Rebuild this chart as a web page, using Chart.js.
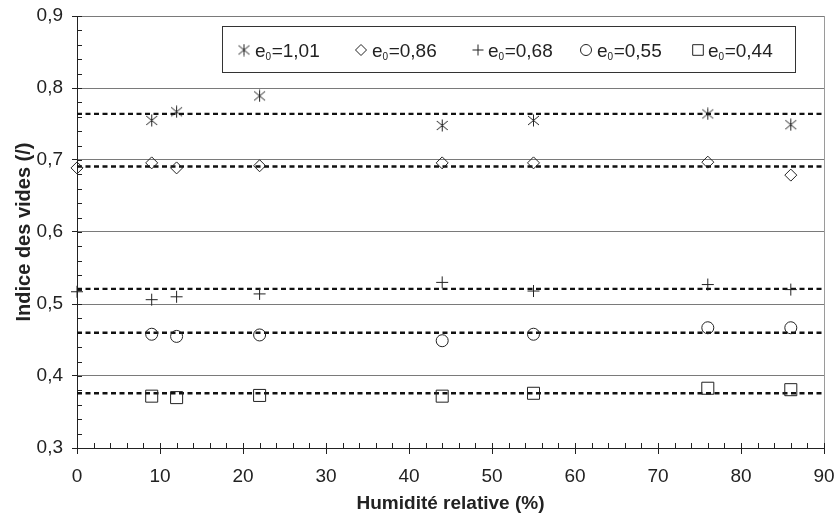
<!DOCTYPE html>
<html>
<head>
<meta charset="utf-8">
<script src="https://cdn.jsdelivr.net/npm/chart.js@4/dist/chart.umd.min.js"></script>
<style>
html,body{margin:0;padding:0;background:#fff}
#wrap{width:838px;height:520px;position:relative}
</style>
</head>
<body>
<div id="wrap"><canvas id="c" width="838" height="520"></canvas></div>
<script>
// ---- Data ----
const hr101 = [9, 12, 22, 44, 55, 76, 86];
const e101  = [0.755, 0.767, 0.789, 0.748, 0.755, 0.764, 0.749];
const hr086 = [0, 9, 12, 22, 44, 55, 76, 86];
const e086  = [0.689, 0.696, 0.689, 0.692, 0.696, 0.696, 0.697, 0.679];
const hr068 = [0, 9, 12, 22, 44, 55, 76, 86];
const e068  = [0.517, 0.506, 0.510, 0.514, 0.530, 0.518, 0.527, 0.520];
const hr055 = [9, 12, 22, 44, 55, 76, 86];
const e055  = [0.458, 0.455, 0.457, 0.449, 0.458, 0.467, 0.467];
const hr044 = [9, 12, 22, 44, 55, 76, 86];
const e044  = [0.372, 0.370, 0.373, 0.372, 0.376, 0.383, 0.381];
const meanValues = [0.764, 0.691, 0.521, 0.460, 0.376];
const seriesLabels = ['1,01', '0,86', '0,68', '0,55', '0,44'];
const xRange = [0, 90];
const yRange = [0.3, 0.9];

const INK = '#222';
const FONT = "'Liberation Sans', Arial, sans-serif";

function makeAsterisk() {
  const c = document.createElement('canvas');
  c.width = 13; c.height = 13;
  const g = c.getContext('2d');
  g.strokeStyle = INK; g.lineWidth = 1;
  g.beginPath();
  g.moveTo(1, 2); g.lineTo(12, 11);
  g.moveTo(12, 2); g.lineTo(1, 11);
  g.moveTo(6.5, 0.5); g.lineTo(6.5, 12.5);
  g.stroke();
  return c;
}
const asterisk = makeAsterisk();

const styles = [
  {pointStyle: asterisk, radius: 6.5},
  {pointStyle: 'rectRot', radius: 6},
  {pointStyle: 'cross', radius: 6},
  {pointStyle: 'circle', radius: 6},
  {pointStyle: 'rect', radius: 8.5}
];
const xs = [hr101, hr086, hr068, hr055, hr044];
const ys = [e101, e086, e068, e055, e044];

const datasets = [];
xs.forEach((xa, i) => {
  datasets.push({
    type: 'scatter',
    label: 'e0=' + seriesLabels[i],
    data: xa.map((x, k) => ({x: x, y: ys[i][k]})),
    pointStyle: styles[i].pointStyle,
    pointRadius: styles[i].radius,
    pointHoverRadius: styles[i].radius,
    pointBorderColor: INK,
    pointBackgroundColor: 'rgba(0,0,0,0)',
    pointBorderWidth: 1,
    showLine: false,
    clip: false
  });
});
meanValues.forEach((m) => {
  datasets.push({
    type: 'line',
    label: 'mean',
    data: [{x: xRange[0], y: m}, {x: xRange[1], y: m}],
    borderColor: '#111',
    borderWidth: 2.4,
    borderDash: [5, 3.5],
    pointRadius: 0,
    fill: false,
    clip: false
  });
});

const decorPlugin = {
  id: 'decor',
  beforeDatasetsDraw(chart) {
    const {ctx, chartArea: a, scales: {x, y}} = chart;
    ctx.save();
    ctx.strokeStyle = '#9a9a9a';
    ctx.lineWidth = 1;
    ctx.beginPath();
    ctx.moveTo(Math.round(a.right) + 0.5, a.top);
    ctx.lineTo(Math.round(a.right) + 0.5, a.bottom);
    ctx.stroke();
    // minor / inner ticks
    ctx.strokeStyle = INK;
    ctx.beginPath();
    for (let v = xRange[0]; v <= xRange[1] + 1e-9; v += 2) {
      const px = Math.round(x.getPixelForValue(v)) + 0.5;
      ctx.moveTo(px, a.bottom);
      ctx.lineTo(px, a.bottom - 5);
    }
    for (let k = 0; k <= 30; k++) {
      const v = yRange[0] + k * 0.02;
      const py = Math.round(y.getPixelForValue(v)) + 0.5;
      ctx.moveTo(a.left, py);
      ctx.lineTo(a.left + 5, py);
    }
    ctx.stroke();
    ctx.restore();
  },
  afterDraw(chart) {
    const {ctx} = chart;
    ctx.save();
    // legend box
    const bx = 222.5, by = 26.5, bw = 573, bh = 46;
    ctx.fillStyle = '#fff';
    ctx.fillRect(bx, by, bw, bh);
    ctx.strokeStyle = '#333';
    ctx.lineWidth = 1;
    ctx.strokeRect(bx, by, bw, bh);
    const markerX = [244, 361, 478, 586, 698];
    const textX = [255, 372, 488, 597, 708];
    const cy = 50;
    for (let i = 0; i < 5; i++) {
      ctx.strokeStyle = INK;
      ctx.fillStyle = 'rgba(0,0,0,0)';
      ctx.lineWidth = 1;
      const r = i === 4 ? 7.5 : (i === 0 ? 6 : 5.5);
      Chart.helpers.drawPoint(ctx, {pointStyle: styles[i].pointStyle, radius: r, borderWidth: 1, rotation: 0}, markerX[i], cy);
      // text with subscript
      ctx.fillStyle = INK;
      ctx.textBaseline = 'alphabetic';
      ctx.textAlign = 'left';
      let tx = textX[i];
      const base = cy + 7;
      ctx.font = '19px ' + FONT;
      ctx.fillText('e', tx, base);
      tx += ctx.measureText('e').width;
      ctx.font = '10px ' + FONT;
      ctx.fillText('0', tx, base + 3);
      tx += ctx.measureText('0').width + 0.5;
      ctx.font = '19px ' + FONT;
      ctx.fillText('=' + seriesLabels[i], tx, base);
    }
    ctx.restore();
  }
};

new Chart(document.getElementById('c'), {
  data: {datasets: datasets},
  options: {
    responsive: false,
    animation: false,
    events: [],
    layout: {padding: {top: 16, right: 14, left: 0, bottom: 0}},
    plugins: {legend: {display: false}, tooltip: {enabled: false}},
    scales: {
      x: {
        type: 'linear',
        min: xRange[0], max: xRange[1],
        ticks: {stepSize: 10, color: INK, font: {family: FONT, size: 19}, padding: 11, maxRotation: 0},
        grid: {drawOnChartArea: false, drawTicks: true, tickLength: 6, tickColor: INK, color: INK},
        border: {color: INK, width: 1},
        title: {display: true, text: 'Humidité relative (%)', color: INK, font: {family: FONT, size: 19, weight: 'bold'}, padding: {top: 4, bottom: 5}},
        afterFit(s) { s.height = 72; s.paddingLeft = 0; s.paddingRight = 0; }
      },
      y: {
        type: 'linear',
        min: yRange[0], max: yRange[1],
        ticks: {stepSize: 0.1, color: INK, font: {family: FONT, size: 19}, padding: 9,
          callback: (v) => v.toFixed(1).replace('.', ',')},
        grid: {color: '#7a7a7a', lineWidth: 1, tickColor: INK, tickLength: 5},
        border: {color: INK, width: 1},
        title: {display: true, text: 'Indice des vides (/)', color: INK, font: {family: FONT, size: 20, weight: 'bold'}, padding: {top: 12, bottom: 4}},
        afterFit(s) { s.width = 77; s.paddingTop = 0; s.paddingBottom = 0; }
      }
    }
  },
  plugins: [decorPlugin]
});
</script>
</body>
</html>
